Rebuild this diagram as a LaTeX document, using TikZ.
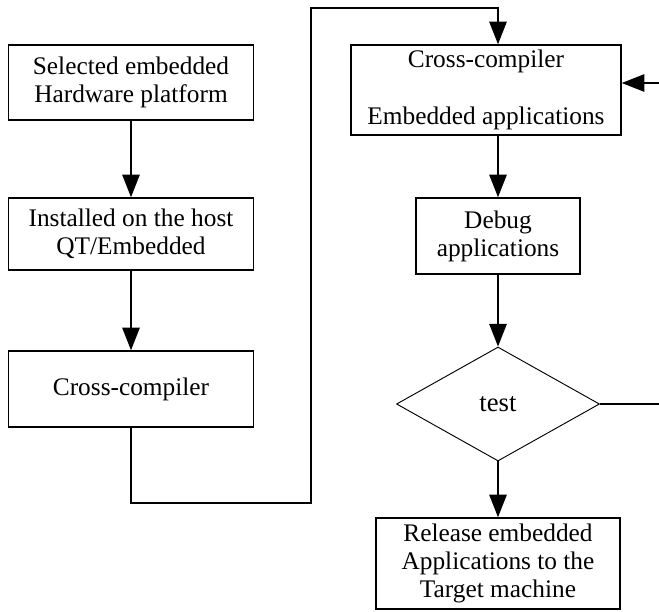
\documentclass[tikz,border=0pt]{standalone}
\usepackage{fontspec}
\setmainfont{Liberation Serif}
\usetikzlibrary{arrows.meta,shapes.geometric}
\begin{document}
\begin{tikzpicture}[x=0.75pt,y=-0.75pt,
  font=\fontsize{19}{21}\selectfont,
  box/.style={draw,line width=1.1pt,rectangle,align=center,inner sep=0pt},
  dec/.style={draw,line width=0.7pt,diamond,inner sep=0pt,minimum width=152.25pt,minimum height=85.5pt},
  conn/.style={line width=1.4pt},
  arr/.style={conn,-{Triangle[length=17pt,width=13pt]}}]
\useasboundingbox (0,0) rectangle (659,611);
\node[box,minimum width=183.75pt,minimum height=56.25pt] (b1) at (131,82.5) {Selected embedded\\Hardware platform};
\node[box,minimum width=183.75pt,minimum height=54pt] (b2) at (131,234) {Installed on the host\\QT/Embedded};
\node[box,minimum width=183.75pt,minimum height=57pt] (b3) at (131,389) {Cross-compiler};
\node[box,minimum width=202.5pt,minimum height=67.5pt] (b4) at (486,90) {Cross-compiler\\[22pt]Embedded applications};
\node[box,minimum width=123pt,minimum height=57pt] (b5) at (498,236) {Debug\\applications};
\node[dec,font=\fontsize{20}{22}\selectfont] (d) at (498,404) {test};
\node[box,minimum width=183pt,minimum height=68.25pt] (b6) at (498,563.5) {Release embedded\\Applications to the\\Target machine};
\coordinate (p1) at (131,503);
\coordinate (p2) at (311,503);
\coordinate (p3) at (311,8);
\coordinate (p4) at (498,8);
\coordinate (r1) at (659,404);
\coordinate (r2) at (659,83);
\draw[arr] (b1.south) -- (b2.north);
\draw[arr] (b2.south) -- (b3.north);
\draw[arr] (b3.south) -- (p1) -- (p2) -- (p3) -- (p4) -- (p4 |- b4.north);
\draw[arr] (b4.south -| b5.north) -- (b5.north);
\draw[arr] (b5.south) -- (d.north);
\draw[arr] (d.south) -- (b6.north);
\draw[conn] (d.east) -- (r1);
\draw[arr] (r2) -- (r2 -| b4.east);
\end{tikzpicture}
\end{document}
